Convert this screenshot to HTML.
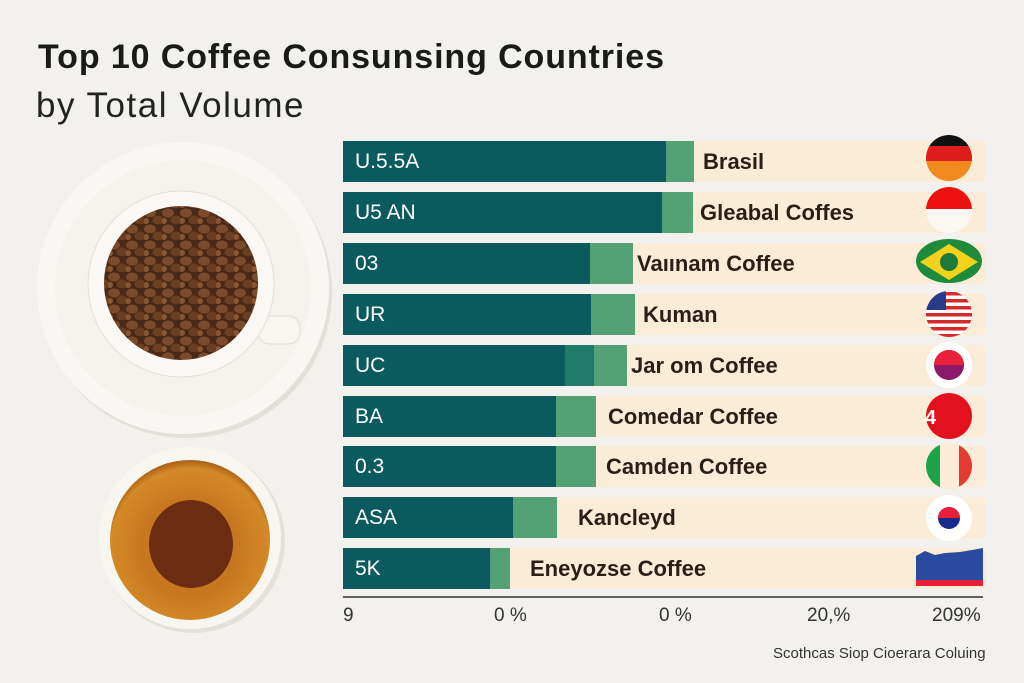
<!DOCTYPE html>
<html><head><meta charset="utf-8"><style>
html,body{margin:0;padding:0;}
body{width:1024px;height:683px;background:#f2f1ee;position:relative;overflow:hidden;font-family:"Liberation Sans","DejaVu Sans",sans-serif;}
.t1{position:absolute;left:38px;top:38px;font-size:34px;font-weight:bold;color:#1a1a1a;letter-spacing:0.9px;white-space:nowrap}
.t2{position:absolute;left:36px;top:86px;font-size:35px;color:#222;letter-spacing:1.5px;white-space:nowrap}
.row{position:absolute;left:343px;height:41px;}
.lbl{position:absolute;left:12px;top:0;line-height:41px;color:#fff;font-size:21px}
.nm{position:absolute;top:0;line-height:41px;color:#2a1f17;font-size:22px;font-weight:bold;white-space:nowrap}
.tick{position:absolute;top:605px;font-size:19px;color:#333}
.src{position:absolute;left:773px;top:645px;font-size:15px;color:#333}
</style></head><body>
<div class="t1">Top 10 Coffee Consunsing Countries</div>
<div class="t2">by Total Volume</div>

<svg width="340" height="683" style="position:absolute;left:0;top:0">
<defs>
<radialGradient id="cr" cx="50%" cy="55%" r="55%"><stop offset="0.55" stop-color="#c7781f"/><stop offset="0.9" stop-color="#d48a28"/><stop offset="1" stop-color="#a85e14"/></radialGradient>
<pattern id="bn" width="18" height="16" patternUnits="userSpaceOnUse">
<rect width="18" height="16" fill="#4a2a17"/>
<ellipse cx="6" cy="5" rx="6" ry="4.5" fill="#7a4a2a"/>
<ellipse cx="14" cy="12" rx="5.5" ry="4.5" fill="#6b3e22"/>
<ellipse cx="2" cy="13" rx="3" ry="3" fill="#8a5532"/>
</pattern>
</defs>
<circle cx="186" cy="292" r="146" fill="#e3e0d9"/>
<circle cx="183" cy="288" r="146" fill="#f9f7f3"/>
<circle cx="183" cy="288" r="128" fill="#f5f3ee"/>
<rect x="258" y="316" width="42" height="28" rx="12" fill="#f8f6f1" stroke="#e0ddd5"/>
<circle cx="181" cy="284" r="93" fill="#faf8f4" stroke="#e4e0d8"/>
<circle cx="181" cy="283" r="77" fill="url(#bn)"/>
<circle cx="193" cy="541" r="92" fill="#e4e1da"/>
<circle cx="190" cy="538" r="91" fill="#f8f6f1"/>
<circle cx="190" cy="540" r="80" fill="url(#cr)"/>
<ellipse cx="191" cy="544" rx="42" ry="44" fill="#6b2c12"/>
</svg>

<div class="row" style="top:141px;width:642px;background:#fbecd8"><div style="position:absolute;left:0;top:0;width:323px;height:41px;background:#0a5a5e"></div><div style="position:absolute;left:323px;top:0;width:28px;height:41px;background:#55a176"></div><div class="lbl">U.5.5A</div><div class="nm" style="left:360px">Brasil</div></div>
<div class="row" style="top:192px;width:642px;background:#fbecd8"><div style="position:absolute;left:0;top:0;width:319px;height:41px;background:#0a5a5e"></div><div style="position:absolute;left:319px;top:0;width:31px;height:41px;background:#55a176"></div><div class="lbl">U5 AN</div><div class="nm" style="left:357px">Gleabal Coffes</div></div>
<div class="row" style="top:243px;width:642px;background:#fbecd8"><div style="position:absolute;left:0;top:0;width:247px;height:41px;background:#0a5a5e"></div><div style="position:absolute;left:247px;top:0;width:43px;height:41px;background:#55a176"></div><div class="lbl">03</div><div class="nm" style="left:294px">Vaıınam Coffee</div></div>
<div class="row" style="top:294px;width:642px;background:#fbecd8"><div style="position:absolute;left:0;top:0;width:248px;height:41px;background:#0a5a5e"></div><div style="position:absolute;left:248px;top:0;width:44px;height:41px;background:#55a176"></div><div class="lbl">UR</div><div class="nm" style="left:300px">Kuman</div></div>
<div class="row" style="top:345px;width:642px;background:#fbecd8"><div style="position:absolute;left:0;top:0;width:222px;height:41px;background:#0a5a5e"></div><div style="position:absolute;left:222px;top:0;width:29px;height:41px;background:#1f7a6a"></div><div style="position:absolute;left:251px;top:0;width:33px;height:41px;background:#55a176"></div><div class="lbl">UC</div><div class="nm" style="left:288px">Jar om Coffee</div></div>
<div class="row" style="top:396px;width:642px;background:#fbecd8"><div style="position:absolute;left:0;top:0;width:213px;height:41px;background:#0a5a5e"></div><div style="position:absolute;left:213px;top:0;width:40px;height:41px;background:#55a176"></div><div class="lbl">BA</div><div class="nm" style="left:265px">Comedar Coffee</div></div>
<div class="row" style="top:446px;width:642px;background:#fbecd8"><div style="position:absolute;left:0;top:0;width:213px;height:41px;background:#0a5a5e"></div><div style="position:absolute;left:213px;top:0;width:40px;height:41px;background:#55a176"></div><div class="lbl">0.3</div><div class="nm" style="left:263px">Camden Coffee</div></div>
<div class="row" style="top:497px;width:642px;background:#fbecd8"><div style="position:absolute;left:0;top:0;width:170px;height:41px;background:#0a5a5e"></div><div style="position:absolute;left:170px;top:0;width:44px;height:41px;background:#55a176"></div><div class="lbl">ASA</div><div class="nm" style="left:235px">Kancleyd</div></div>
<div class="row" style="top:548px;width:642px;background:#fbecd8"><div style="position:absolute;left:0;top:0;width:147px;height:41px;background:#0a5a5e"></div><div style="position:absolute;left:147px;top:0;width:20px;height:41px;background:#55a176"></div><div class="lbl">5K</div><div class="nm" style="left:187px">Eneyozse Coffee</div></div>

<svg width="1024" height="683" style="position:absolute;left:0;top:0">
<defs>
<clipPath id="c1"><circle cx="949" cy="158" r="23"/></clipPath>
<clipPath id="c2"><circle cx="949" cy="210" r="23"/></clipPath>
<clipPath id="c4"><circle cx="949" cy="314" r="23"/></clipPath>
<clipPath id="c7"><circle cx="949" cy="466" r="23"/></clipPath>
</defs>
<g clip-path="url(#c1)"><rect x="920" y="130" width="60" height="16" fill="#111"/><rect x="920" y="146" width="60" height="15" fill="#dd1c1c"/><rect x="920" y="161" width="60" height="25" fill="#f08a1c"/></g>
<g clip-path="url(#c2)"><rect x="920" y="185" width="60" height="24" fill="#ee1111"/><rect x="920" y="209" width="60" height="26" fill="#fbf8f4"/></g>
<ellipse cx="949" cy="261" rx="33" ry="22" fill="#1e8a3c"/><polygon points="920,262 949,244 978,262 949,280" fill="#f2d21a"/><circle cx="949" cy="262" r="9" fill="#1e7a3a"/>
<g clip-path="url(#c4)"><rect x="920" y="290" width="60" height="50" fill="#fff"/>
<g fill="#d42a2a"><rect x="920" y="292" width="60" height="3.5"/><rect x="920" y="299" width="60" height="3.5"/><rect x="920" y="306" width="60" height="3.5"/><rect x="920" y="313" width="60" height="3.5"/><rect x="920" y="320" width="60" height="3.5"/><rect x="920" y="327" width="60" height="3.5"/><rect x="920" y="334" width="60" height="3.5"/></g>
<rect x="920" y="290" width="26" height="20" fill="#2a3a8a"/></g>
<circle cx="949" cy="365" r="23" fill="#fff"/><circle cx="949" cy="365" r="15" fill="#8b1a6a"/><path d="M934 365a15 15 0 0 1 30 0z" fill="#e8203a"/>
<circle cx="949" cy="416" r="23" fill="#e3101f"/><text x="925" y="424" font-size="20" font-weight="bold" fill="#fff" font-family="Liberation Sans">4</text>
<g clip-path="url(#c7)"><rect x="920" y="440" width="20" height="50" fill="#1fa34a"/><rect x="940" y="440" width="19" height="50" fill="#fbecd8"/><rect x="959" y="440" width="25" height="50" fill="#e53a32"/></g>
<circle cx="949" cy="518" r="23" fill="#fff"/><circle cx="949" cy="518" r="11" fill="#1a2a8a"/><path d="M938 518a11 11 0 0 1 22 0z" fill="#e8203a"/>
<path d="M916 556 L925 551 L935 555 L945 553 L960 552 L972 550 L983 548 L983 580 L916 580z" fill="#2a4aa0"/><rect x="916" y="580" width="67" height="6" fill="#e8203a"/>
<line x1="343" y1="597" x2="983" y2="597" stroke="#333" stroke-width="1.5"/>
</svg>

<div class="tick" style="left:343px">9</div>
<div class="tick" style="left:494px">0 %</div>
<div class="tick" style="left:659px">0 %</div>
<div class="tick" style="left:807px">20,%</div>
<div class="tick" style="left:932px">209%</div>
<div class="src">Scothcas Siop Cioerara Coluing</div>
</body></html>
